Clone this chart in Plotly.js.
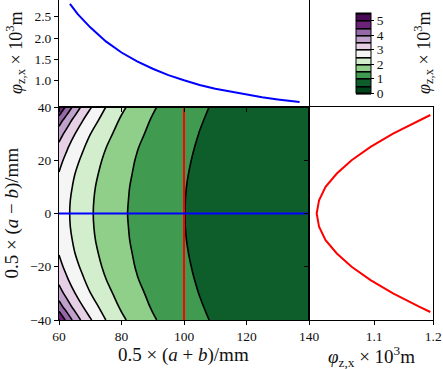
<!DOCTYPE html>
<html>
<head>
<meta charset="utf-8">
<script src="https://cdn.plot.ly/plotly-3.0.1.min.js"></script>
<style>
  html, body { margin: 0; padding: 0; background: #fff; }
  #plot { width: 443px; height: 369px; }
</style>
</head>
<body>
<div id="plot"></div>
<script>
// map grid: 0.5(a+b) along x, 0.5(a-b) along y, both in mm
let gridX = [60, 62.5, 65, 67.5, 70, 75, 80, 85, 90, 95, 100, 105, 110, 120, 130, 140];
let gridY = [-40, -35, -30, -25, -20, -15, -10, -5, 0, 5, 10, 15, 20, 25, 30, 35, 40];

// phi_z,x x 10^3 m, one row per gridY value
let phiGrid = [
  [5.03, 4.36, 3.83, 3.40, 3.05, 2.497, 2.09, 1.79, 1.55, 1.35, 1.196, 1.066, 0.957, 0.785, 0.657, 0.558],
  [4.23, 3.75, 3.35, 3.02, 2.74, 2.28, 1.94, 1.68, 1.46, 1.29, 1.145, 1.026, 0.924, 0.763, 0.641, 0.547],
  [3.72, 3.34, 3.02, 2.75, 2.51, 2.13, 1.83, 1.59, 1.40, 1.24, 1.104, 0.993, 0.897, 0.744, 0.628, 0.537],
  [3.38, 3.06, 2.79, 2.56, 2.35, 2.01, 1.74, 1.52, 1.34, 1.20, 1.072, 0.966, 0.876, 0.730, 0.618, 0.530],
  [3.14, 2.87, 2.63, 2.42, 2.23, 1.92, 1.68, 1.47, 1.31, 1.17, 1.047, 0.946, 0.859, 0.718, 0.609, 0.523],
  [2.98, 2.73, 2.51, 2.32, 2.15, 1.86, 1.63, 1.44, 1.28, 1.14, 1.028, 0.931, 0.846, 0.709, 0.603, 0.519],
  [2.87, 2.64, 2.44, 2.26, 2.09, 1.82, 1.60, 1.41, 1.26, 1.13, 1.015, 0.920, 0.838, 0.703, 0.598, 0.515],
  [2.81, 2.59, 2.39, 2.22, 2.06, 1.80, 1.58, 1.40, 1.245, 1.12, 1.008, 0.914, 0.832, 0.699, 0.596, 0.513],
  [2.79, 2.57, 2.38, 2.21, 2.05, 1.79, 1.57, 1.39, 1.24, 1.11, 1.005, 0.912, 0.831, 0.698, 0.595, 0.513],
  [2.81, 2.59, 2.39, 2.22, 2.06, 1.80, 1.58, 1.40, 1.245, 1.12, 1.008, 0.914, 0.832, 0.699, 0.596, 0.513],
  [2.87, 2.64, 2.44, 2.26, 2.09, 1.82, 1.60, 1.41, 1.26, 1.13, 1.015, 0.920, 0.838, 0.703, 0.598, 0.515],
  [2.98, 2.73, 2.51, 2.32, 2.15, 1.86, 1.63, 1.44, 1.28, 1.14, 1.028, 0.931, 0.846, 0.709, 0.603, 0.519],
  [3.14, 2.87, 2.63, 2.42, 2.23, 1.92, 1.68, 1.47, 1.31, 1.17, 1.047, 0.946, 0.859, 0.718, 0.609, 0.523],
  [3.38, 3.06, 2.79, 2.56, 2.35, 2.01, 1.74, 1.52, 1.34, 1.20, 1.072, 0.966, 0.876, 0.730, 0.618, 0.530],
  [3.72, 3.34, 3.02, 2.75, 2.51, 2.13, 1.83, 1.59, 1.40, 1.24, 1.104, 0.993, 0.897, 0.744, 0.628, 0.537],
  [4.23, 3.75, 3.35, 3.02, 2.74, 2.28, 1.94, 1.68, 1.46, 1.29, 1.145, 1.026, 0.924, 0.763, 0.641, 0.547],
  [5.03, 4.36, 3.83, 3.40, 3.05, 2.497, 2.09, 1.79, 1.55, 1.35, 1.196, 1.066, 0.957, 0.785, 0.657, 0.558]
];

// where the two cuts are taken
let cutAtX = 100;
let cutAtY = 0;

// top panel: phi along the horizontal cut
let cutX = [63.5, 66, 70, 75, 80, 85, 90, 95, 100, 105, 110, 115, 120, 125, 130, 137];
let cutXPhi = [2.80, 2.56, 2.25, 1.92, 1.66, 1.45, 1.28, 1.13, 1.01, 0.90, 0.81, 0.74, 0.67, 0.61, 0.56, 0.50];

// right panel: phi along the vertical cut
let cutY = [-37, -35, -30, -25, -20, -15, -10, -5, 0, 5, 10, 15, 20, 25, 30, 35, 37];
let cutYPhi = [1.195, 1.176, 1.132, 1.094, 1.062, 1.037, 1.018, 1.007, 1.003, 1.007, 1.018, 1.037, 1.062, 1.094, 1.132, 1.176, 1.195];

// one colour per 0.5 band, 0 -> 5.5
let bandColors = ["#00441b", "#0e5e2b", "#409a50", "#8fcf89", "#d3eecd", "#f5f5f5",
                  "#e5d0e6", "#bfa1cc", "#9569a8", "#6c2278", "#4a0a57"];

let colorscale = [];
bandColors.forEach((c, i) => {
    colorscale.push([i / bandColors.length, c]);
    colorscale.push([(i + 1) / bandColors.length, c]);
});

let W = 443, H = 369;
let px = v => v / W;
let py = v => 1 - v / H;

let serif = "Liberation Serif, Times New Roman, serif";
let tickFont = {family: serif, size: 13.5, color: "#111"};
let phiLabel = "<i>φ</i><sub>z,x</sub> × 10<sup>3</sup>m";

let contour = {
    type: "contour",
    x: gridX,
    y: gridY,
    z: phiGrid,
    zmin: 0,
    zmax: 5.5,
    autocontour: false,
    contours: {start: 0, end: 5.5, size: 0.5, coloring: "fill", showlines: true},
    line: {color: "#000", width: 1.6, smoothing: 1},
    colorscale: colorscale,
    colorbar: {
        x: px(356), xanchor: "left", xpad: 0,
        y: py(53.2), yanchor: "middle", ypad: 0,
        len: 80, lenmode: "pixels",
        thickness: 15, thicknessmode: "pixels",
        outlinewidth: 1, outlinecolor: "#000",
        ticks: "outside", ticklen: 3, tickcolor: "#000",
        tickvals: [0, 1, 2, 3, 4, 5],
        tickfont: tickFont
    },
    hoverinfo: "skip"
};

let vCut = {
    x: [cutAtX, cutAtX],
    y: [gridY[0], gridY[gridY.length - 1]],
    mode: "lines",
    line: {color: "#ff0000", width: 2}
};

let hCut = {
    x: [gridX[0], gridX[gridX.length - 1]],
    y: [cutAtY, cutAtY],
    mode: "lines",
    line: {color: "#0000ff", width: 2}
};

let topTrace = {
    x: cutX,
    y: cutXPhi,
    xaxis: "x2",
    yaxis: "y2",
    mode: "lines",
    line: {color: "#0000ff", width: 2}
};

let rightTrace = {
    x: cutYPhi,
    y: cutY,
    xaxis: "x3",
    yaxis: "y3",
    mode: "lines",
    line: {color: "#ff0000", width: 2}
};

let data = [contour, vCut, hCut, topTrace, rightTrace];

// shared axis look
let axisBase = {
    showline: true, linecolor: "#000", linewidth: 1, mirror: true,
    ticks: "outside", ticklen: 4, tickwidth: 1, tickcolor: "#000",
    showgrid: false, zeroline: false, tickfont: tickFont
};

let mainX = [px(59), px(309)];
let mainY = [py(320), py(107)];

let layout = {
    width: W,
    height: H,
    margin: {l: 0, r: 0, t: 0, b: 0, autoexpand: false},
    paper_bgcolor: "#fff",
    plot_bgcolor: "#fff",
    showlegend: false,
    hovermode: false,
    xaxis: Object.assign({}, axisBase, {domain: mainX, range: [60, 140], tickvals: [60, 80, 100, 120, 140], anchor: "y"}),
    yaxis: Object.assign({}, axisBase, {domain: mainY, range: [-40, 40], tickvals: [-40, -20, 0, 20, 40], anchor: "x"}),
    xaxis2: Object.assign({}, axisBase, {domain: mainX, range: [60, 140], tickvals: [60, 80, 100, 120, 140], showticklabels: false, anchor: "y2"}),
    yaxis2: Object.assign({}, axisBase, {domain: [py(107), 1], range: [0.384, 2.89], tickvals: [1, 1.5, 2, 2.5], tickformat: ".1f", anchor: "x2"}),
    xaxis3: Object.assign({}, axisBase, {domain: [px(309), px(433.3)], range: [0.99, 1.2], tickvals: [1.1, 1.2], anchor: "y3"}),
    yaxis3: Object.assign({}, axisBase, {domain: mainY, range: [-40, 40], tickvals: [-40, -20, 0, 20, 40], showticklabels: false, anchor: "x3"}),
    annotations: [
        {text: "0.5 × (<i>a</i> + <i>b</i>)/mm", x: px(183), y: py(355), textangle: 0},
        {text: phiLabel, x: px(371), y: py(356), textangle: 0},
        {text: "0.5 × (<i>a</i> − <i>b</i>)/mm", x: px(11), y: py(213.5), textangle: -90},
        {text: phiLabel, x: px(15), y: py(53), textangle: -90, font: {family: serif, size: 18, color: "#111"}},
        {text: phiLabel, x: px(423), y: py(53), textangle: -90, font: {family: serif, size: 18, color: "#111"}}
    ].map(a => Object.assign({
        xref: "paper", yref: "paper", xanchor: "center", yanchor: "middle",
        showarrow: false, font: {family: serif, size: 19, color: "#111"}
    }, a))
};

Plotly.newPlot("plot", data, layout, {staticPlot: true});
</script>
</body>
</html>
